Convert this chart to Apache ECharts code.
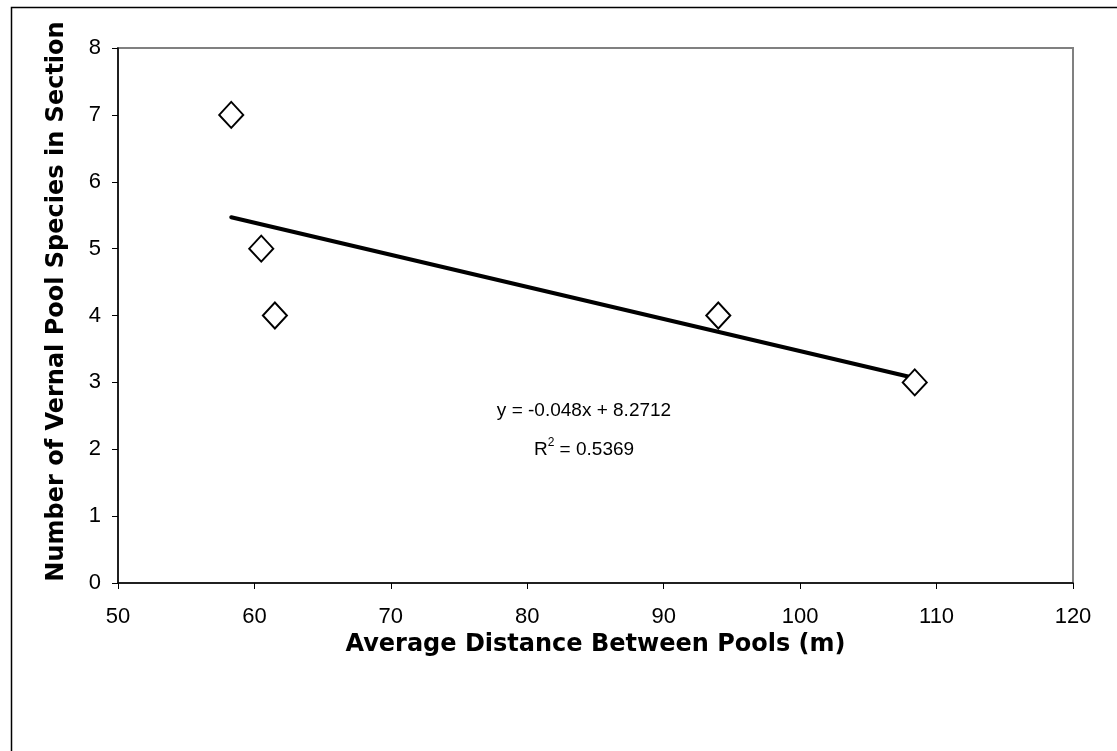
<!DOCTYPE html>
<html>
<head>
<meta charset="utf-8">
<script src="https://cdn.jsdelivr.net/npm/echarts@6/dist/echarts.min.js"></script>
<style>html,body{margin:0;padding:0;background:#fff;}#c{width:1117px;height:751px;}</style>
</head>
<body>
<div id="c"></div>
<script>
var distances = [58.3, 60.5, 61.5, 94.0, 108.4];
var speciesCounts = [7, 5, 4, 4, 3];
var trendX = [58.3, 108.3];
var trendY = [5.47, 3.07];
var xTicks = [50, 60, 70, 80, 90, 100, 110, 120];
var yTicks = [0, 1, 2, 3, 4, 5, 6, 7, 8];
var equationText = 'y = -0.048x + 8.2712';
var r2Value = '0.5369';
var xTitle = 'Average Distance Between Pools (m)';
var yTitle = 'Number of Vernal Pool Species in Section';

var chart = echarts.init(document.getElementById('c'), null, {renderer: 'canvas'});
var pts = distances.map(function (d, i) { return [d, speciesCounts[i]]; });
var trend = trendX.map(function (d, i) { return [d, trendY[i]]; });

var gridL = 118, gridT = 48, gridW = 955, gridH = 535;

chart.setOption({
  animation: false,
  backgroundColor: '#fff',
  grid: {left: gridL, top: gridT, width: gridW, height: gridH, show: true, borderColor: '#808080', borderWidth: 2, backgroundColor: 'transparent'},
  xAxis: {
    type: 'value', min: xTicks[0], max: xTicks[xTicks.length - 1], interval: 10,
    name: xTitle, nameLocation: 'middle', nameGap: 47,
    nameTextStyle: {fontFamily: 'DejaVu Sans', fontWeight: 'bold', fontSize: 24, color: '#000'},
    axisLine: {lineStyle: {color: '#000', width: 1.5}},
    axisTick: {show: true, inside: false, length: 6, lineStyle: {color: '#000', width: 1}},
    axisLabel: {fontFamily: 'Liberation Sans, Arial', fontSize: 22, color: '#000', margin: 23},
    splitLine: {show: false}
  },
  yAxis: {
    type: 'value', min: yTicks[0], max: yTicks[yTicks.length - 1], interval: 1,
    name: yTitle, nameLocation: 'middle', nameGap: 49,
    nameTextStyle: {fontFamily: 'DejaVu Sans', fontWeight: 'bold', fontSize: 24, color: '#000', padding: [0, 0, 0, 28]},
    axisLine: {show: true, lineStyle: {color: '#000', width: 1.5}},
    axisTick: {show: true, inside: false, length: 6, lineStyle: {color: '#000', width: 1}},
    axisLabel: {fontFamily: 'Liberation Sans, Arial', fontSize: 22, color: '#000', margin: 17},
    splitLine: {show: false}
  },
  series: [
    {
      type: 'line', data: trend, showSymbol: false, symbol: 'none',
      lineStyle: {color: '#000', width: 4, cap: 'round'}, z: 2
    },
    {
      type: 'scatter', data: pts, symbol: 'diamond', symbolSize: [24, 26],
      itemStyle: {color: '#fff', borderColor: '#000', borderWidth: 2, opacity: 1}, z: 3
    }
  ],
  graphic: [
    {type: 'rect', left: 9, top: 5, silent: true, z: -10,
      shape: {x: 0, y: 0, width: 1200, height: 800},
      style: {fill: 'none', stroke: '#000', lineWidth: 1.5}},
    {type: 'text', x: 584, y: 411, silent: true,
      style: {text: equationText, fontFamily: 'Liberation Sans, Arial', fontSize: 19, fill: '#000', align: 'center', verticalAlign: 'middle'}},
    {type: 'text', x: 584, y: 448, silent: true,
      style: {
        text: '{a|R}{s|2}{a| = ' + r2Value + '}',
        align: 'center', verticalAlign: 'middle',
        rich: {
          a: {fontFamily: 'Liberation Sans, Arial', fontSize: 19, fill: '#000', color: '#000', lineHeight: 22, verticalAlign: 'bottom'},
          s: {fontFamily: 'Liberation Sans, Arial', fontSize: 12, fill: '#000', color: '#000', lineHeight: 22, verticalAlign: 'top', padding: [0, 0, 8, 0]}
        }
      }}
  ]
});
</script>
</body>
</html>
